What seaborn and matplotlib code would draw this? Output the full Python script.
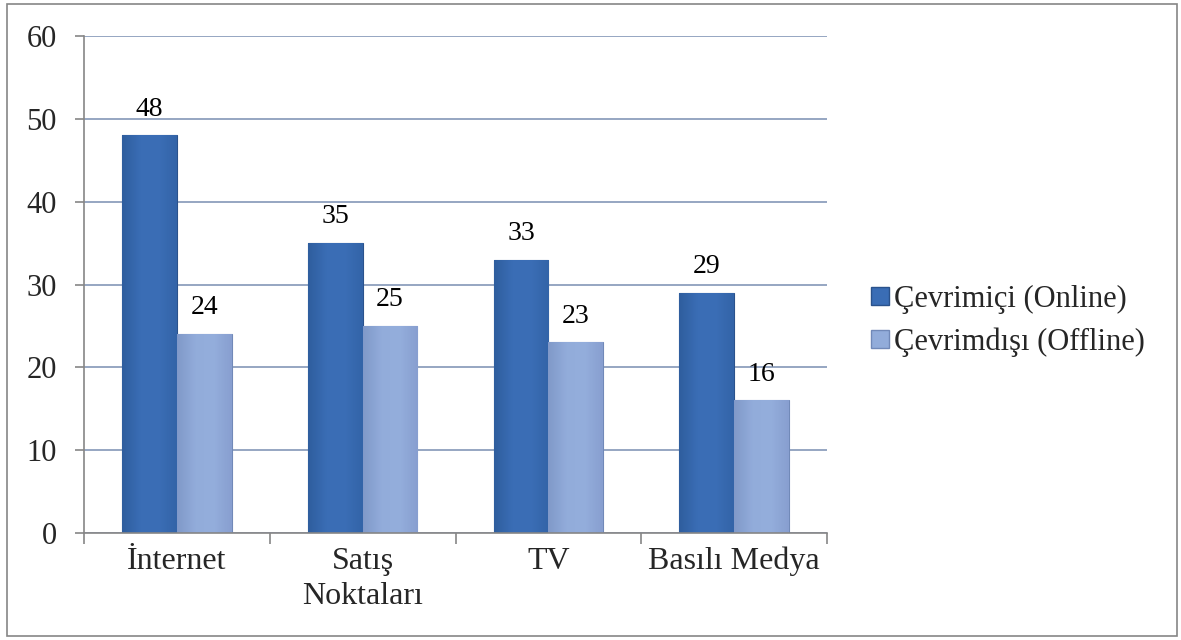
import matplotlib
matplotlib.use("Agg")
import matplotlib.pyplot as plt
import seaborn as sns
import pandas as pd
import numpy as np
from matplotlib.patches import Rectangle
from matplotlib.lines import Line2D
from matplotlib.colors import LinearSegmentedColormap

categories = ["İnternet", "Satış\nNoktaları", "TV", "Basılı Medya"]
series_names = ["Çevrimiçi (Online)", "Çevrimdışı (Offline)"]
online = [48, 35, 33, 29]
offline = [24, 25, 23, 16]
colors = ["#3668AE", "#8DA8D8"]
edge_colors = ["#2A528C", "#7189B8"]
gradients = [["#2F5E9E", "#3A6DB5", "#3B6EB6", "#3364A8"],
             ["#8099C9", "#92ACDA", "#94AEDC", "#889FD0"]]

rows = []
for c, v in zip(categories, online):
    rows.append({"cat": c, "val": v, "series": series_names[0]})
for c, v in zip(categories, offline):
    rows.append({"cat": c, "val": v, "series": series_names[1]})
df = pd.DataFrame(rows)

sns.set_theme(style="white")
plt.rcParams["font.family"] = ["Liberation Serif", "DejaVu Serif"]

fig = plt.figure(figsize=(11.81, 6.40), dpi=100)
ax = fig.add_axes([84 / 1181, 1 - 533 / 640, (827 - 84) / 1181, (533 - 36) / 640])

sns.barplot(data=df, x="cat", y="val", hue="series", palette=colors,
            width=0.59, saturation=1, ax=ax, legend=False, gap=0)

grad_row = np.linspace(0, 1, 64).reshape(1, -1)
for i, cont in enumerate(ax.containers):
    cmap = LinearSegmentedColormap.from_list(f"g{i}", gradients[i])
    for p in cont:
        p.set_edgecolor(edge_colors[i])
        p.set_linewidth(0.8)
        x0, y0 = p.get_x(), p.get_y()
        w, h = p.get_width(), p.get_height()
        im = ax.imshow(grad_row, cmap=cmap, aspect="auto",
                       extent=(x0, x0 + w, y0, y0 + h), zorder=p.get_zorder() + 0.1,
                       interpolation="bilinear")
        im.set_clip_path(p)
    ax.bar_label(cont, padding=10, fontsize=20, color="black")

ax.set_ylim(0, 60)
ax.set_xlim(-0.5, len(categories) - 0.5)
ax.set_yticks(range(0, 61, 10))
ax.yaxis.grid(True, color="#8497B8", linewidth=1.2)
ax.set_axisbelow(True)
ax.set_xlabel("")
ax.set_ylabel("")

for s in ["top", "right"]:
    ax.spines[s].set_visible(False)
for s in ["left", "bottom"]:
    ax.spines[s].set_color("#868686")
    ax.spines[s].set_linewidth(1.2)

ax.tick_params(axis="y", which="major", direction="out", length=6.5, width=1.2,
               color="#868686", labelsize=22, pad=13, left=True)
ax.tick_params(axis="x", which="major", length=0, labelsize=23, pad=10)
ax.set_xticks([x - 0.5 for x in range(len(categories) + 1)], minor=True)
ax.tick_params(axis="x", which="minor", direction="out", length=8, width=1.2,
               color="#868686", bottom=True)
for lbl in ax.get_xticklabels():
    lbl.set_linespacing(1.3)
    lbl.set_verticalalignment("top")

handles = [Line2D([0], [0], marker="s", linestyle="", markersize=12.5,
                  markerfacecolor=gradients[i][1], markeredgecolor=edge_colors[i])
           for i in range(2)]
fig.legend(handles, series_names, loc="center left",
           bbox_to_anchor=(854 / 1181, 1 - 321 / 640), frameon=False,
           fontsize=22, handletextpad=0.0, labelspacing=0.45,
           handlelength=0.9, borderaxespad=0)

fig.add_artist(Rectangle((7 / 1181, 4 / 640), 1170 / 1181, 632 / 640,
                         transform=fig.transFigure, fill=False,
                         edgecolor="#868686", linewidth=1.2))

fig.savefig("out.png", dpi=100)
